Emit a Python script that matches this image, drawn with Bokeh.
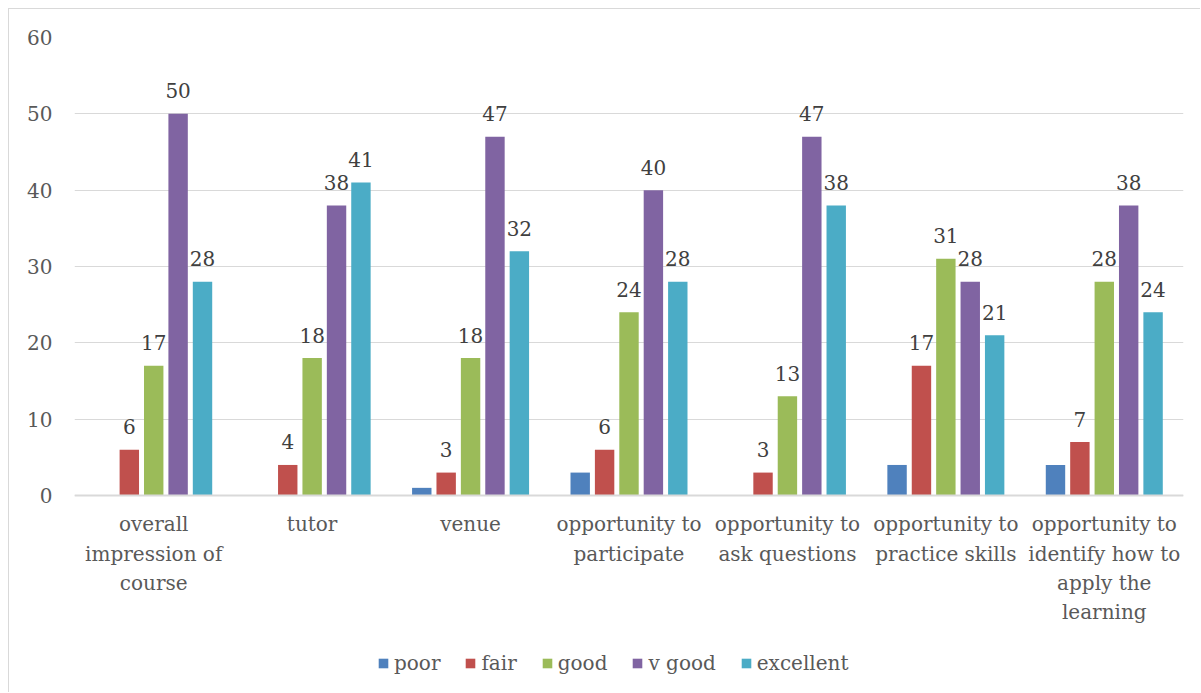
from bokeh.plotting import figure
from bokeh.models import (ColumnDataSource, FactorRange, Range1d, Legend, LegendItem,
                          FixedTicker, Span)
from bokeh.transform import dodge
from bokeh.core.properties import value
from bokeh.embed import file_html
from bokeh.resources import INLINE

categories = ["overall\nimpression of\ncourse", "tutor", "venue",
              "opportunity to\nparticipate", "opportunity to\nask questions",
              "opportunity to\npractice skills",
              "opportunity to\nidentify how to\napply the\nlearning"]
series_names = ["poor", "fair", "good", "v good", "excellent"]
poor = [0, 0, 1, 3, 0, 4, 4]
fair = [6, 4, 3, 6, 3, 17, 7]
good = [17, 18, 18, 24, 13, 31, 28]
v_good = [50, 38, 47, 40, 47, 28, 38]
excellent = [28, 41, 32, 28, 38, 21, 24]
y_ticks = [0, 10, 20, 30, 40, 50, 60]

series_values = [poor, fair, good, v_good, excellent]
colors = ["#4F81BD", "#C0504D", "#9BBB59", "#8064A2", "#4BACC6"]
show_labels = [False, True, True, True, True]

FONT = "DejaVu Serif"
TXT = "#595959"

data = {"cat": categories}
for name, vals in zip(series_names, series_values):
    data[name] = vals
    data[name + "_lbl"] = [str(v) for v in vals]
source = ColumnDataSource(data)

# frame extends below zero to leave room for category labels and legend
p = figure(width=1192, height=684, x_range=FactorRange(*categories),
           y_range=Range1d(-25.68, 60), output_backend="svg", toolbar_location=None,
           min_border_left=65, min_border_right=18, min_border_top=28,
           min_border_bottom=2)
p.outline_line_color = None
p.styles = {"margin-left": "8px", "margin-top": "8px",
            "border-left": "1px solid #D9D9D9", "border-top": "1px solid #D9D9D9"}

pitch = 0.154
bw = 0.1225
items = []
for i, (name, col) in enumerate(zip(series_names, colors)):
    off = (i - 2) * pitch
    r = p.vbar(x=dodge("cat", off, range=p.x_range), top=name, width=bw,
               source=source, fill_color=col, line_color=None)
    items.append(LegendItem(label=name, renderers=[r]))
    if show_labels[i]:
        p.text(x=dodge("cat", off, range=p.x_range), y=name, text=name + "_lbl",
               source=source, text_align="center", text_baseline="alphabetic",
               y_offset=-23, text_font=value(FONT), text_font_size="20px",
               text_color="#404040")

p.xgrid.grid_line_color = None
p.ygrid.grid_line_color = "#D9D9D9"
p.ygrid.grid_line_width = 1
p.ygrid.ticker = FixedTicker(ticks=y_ticks)
p.yaxis.ticker = FixedTicker(ticks=y_ticks)
p.yaxis.axis_line_color = None
p.yaxis.major_tick_line_color = None
p.yaxis.minor_tick_line_color = None
p.yaxis.major_label_standoff = 16
p.yaxis.major_label_text_font = FONT
p.yaxis.major_label_text_font_size = "20px"
p.yaxis.major_label_text_color = TXT

p.xaxis.fixed_location = 0
p.xaxis.axis_line_color = "#D9D9D9"
p.xaxis.axis_line_width = 2
p.xaxis.major_tick_line_color = None
p.xaxis.minor_tick_line_color = None
p.xaxis.major_label_standoff = 11
p.xaxis.major_label_text_font = FONT
p.xaxis.major_label_text_font_size = "20px"
p.xaxis.major_label_text_color = TXT
p.xaxis.major_label_text_line_height = 1.22

legend = Legend(items=items, orientation="horizontal", location=(303, 16),
                glyph_width=12, glyph_height=12, label_standoff=5, spacing=24,
                padding=0, margin=0, border_line_color=None,
                background_fill_alpha=0, label_text_font=FONT,
                label_text_font_size="20px", label_text_color=TXT,
                label_height=20)
p.add_layout(legend, "center")

open("out.html", "w").write(file_html(p, INLINE))
